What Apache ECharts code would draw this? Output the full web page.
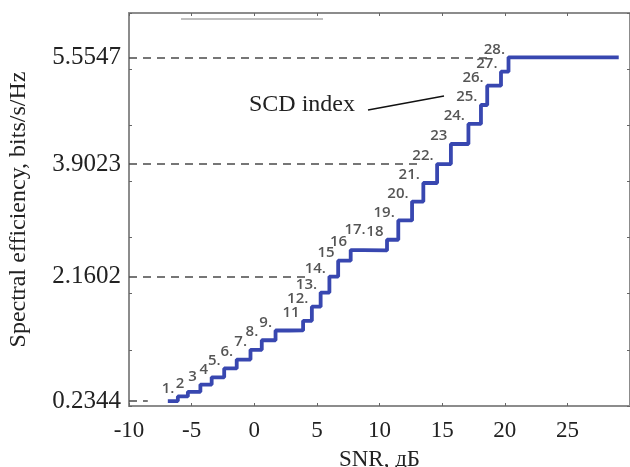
<!DOCTYPE html>
<html>
<head>
<meta charset="utf-8">
<script src="https://cdn.jsdelivr.net/npm/echarts@6/dist/echarts.min.js"></script>
<style>
  html, body { margin: 0; padding: 0; background: #fff; }
  #chart { width: 630px; height: 467px; }
</style>
</head>
<body>
<div id="chart"></div>
<script>
// MCS index of each step (0..28)
const mcsIndex = [0,1,2,3,4,5,6,7,8,9,10,11,12,13,14,15,16,17,18,19,20,21,22,23,24,25,26,27,28];
// spectral efficiency of each MCS, bits/s/Hz
const spectralEff = [0.2344, 0.3066, 0.3770, 0.4902, 0.6016, 0.7402, 0.8770, 1.0273, 1.1758,
  1.3262, 1.3281, 1.4766, 1.6953, 1.9141, 2.1602, 2.4063, 2.5703, 2.5664, 2.7305, 3.0293,
  3.3223, 3.6094, 3.9023, 4.2129, 4.5234, 4.8164, 5.1152, 5.3320, 5.5547];
// SNR (dB) at which each MCS becomes active
const snrSwitch = [-6.9, -6.1, -5.3, -4.3, -3.4, -2.4, -1.4, -0.3, 0.6, 1.7, 2.8, 3.9, 4.6, 5.3,
  6.0, 6.7, 7.7, 8.7, 10.6, 11.5, 12.6, 13.5, 14.6, 15.7, 17.1, 18.1, 18.6, 19.7, 20.3];
const snrEnd = 29.1;
// tags written next to each step
const stepTags = ['', '1.', '2', '3', '4', '5.', '6.', '7.', '8.', '9.', '', '11', '12.', '13.', '14.',
  '15', '16', '17.', '18', '19.', '20.', '21.', '22.', '23', '24.', '25.', '26.', '27.', '28.'];
// MCS levels marked with a dashed reference line
const refIndex = [0, 14, 22, 28];
const xTicks = [-10, -5, 0, 5, 10, 15, 20, 25];

const serif = 'Liberation Serif';
const axisGray = '#8c8c8c';

const curve = mcsIndex.map(i => [snrSwitch[i], spectralEff[i]]);
curve.push([snrEnd, spectralEff[spectralEff.length - 1]]);

// 16 and 17 share almost the same level, so the tag of 17 is lifted above its neighbour
const tagPoints = mcsIndex.filter(i => stepTags[i] !== '').map(i => {
  const item = { value: [snrSwitch[i], spectralEff[i], stepTags[i]] };
  if (i === 17) item.label = { offset: [6, -21] };
  return item;
});

const labelGap = 1.6; // dB left open before the tag of a marked level
const refLines = refIndex.map(i => [
  { name: spectralEff[i].toFixed(4), coord: [-10, spectralEff[i]] },
  { coord: [snrSwitch[i] - labelGap, spectralEff[i]] }
]);

const chart = echarts.init(document.getElementById('chart'), null, { renderer: 'canvas' });

const helperY = (pos, withName) => ({
  type: 'value', min: 0, max: 7, interval: 1, position: pos,
  axisLine: { show: true, onZero: false, lineStyle: { color: axisGray, width: 2 } },
  axisTick: { show: true, inside: true, length: 3, lineStyle: { color: '#666', width: 1 } },
  axisLabel: { show: false },
  splitLine: { show: false },
  name: withName ? 'Spectral efficiency, bits/s/Hz' : '',
  nameLocation: 'middle', nameRotate: 90, nameGap: 98,
  nameTextStyle: { fontFamily: serif, fontSize: 24, color: '#222' }
});

chart.setOption({
  animation: false,
  backgroundColor: '#fff',
  grid: { left: 129, right: 0, top: 13, bottom: 61, containLabel: false, outerBoundsMode: 'none' },
  xAxis: [
    {
      type: 'value', min: -10, max: 30, interval: 5, position: 'bottom',
      axisLine: { show: true, onZero: false, lineStyle: { color: axisGray, width: 2 } },
      axisTick: { show: true, inside: true, length: 3, lineStyle: { color: '#666', width: 1 } },
      axisLabel: {
        margin: 13, fontFamily: serif, fontSize: 23, color: '#222',
        formatter: v => xTicks.indexOf(v) >= 0 ? String(v) : ''
      },
      splitLine: { show: false },
      name: 'SNR, дБ', nameLocation: 'middle', nameGap: 42,
      nameTextStyle: { fontFamily: serif, fontSize: 23, color: '#222' }
    },
    {
      type: 'value', min: -10, max: 30, interval: 5, position: 'top',
      axisLine: { show: true, onZero: false, lineStyle: { color: axisGray, width: 2 } },
      axisTick: { show: true, inside: true, length: 3, lineStyle: { color: '#666', width: 1 } },
      axisLabel: { show: false }, splitLine: { show: false }
    }
  ],
  yAxis: [
    { type: 'value', min: 0.158, max: 6.24, show: false, splitLine: { show: false } },
    helperY('left', true),
    helperY('right', false)
  ],
  series: [
    {
      type: 'line', step: 'end', data: curve, xAxisIndex: 0, yAxisIndex: 0,
      showSymbol: false, symbol: 'none',
      lineStyle: { color: '#3847b0', width: 3.8 },
      z: 3,
      markLine: {
        silent: true, symbol: ['none', 'none'],
        lineStyle: { color: '#4a4a4a', width: 1.5, type: [8, 6] },
        label: {
          show: true, position: 'start', distance: 8, formatter: '{b}',
          fontFamily: serif, fontSize: 25, color: '#222'
        },
        data: refLines
      }
    },
    {
      type: 'scatter', data: tagPoints, xAxisIndex: 0, yAxisIndex: 0,
      symbolSize: 1, itemStyle: { color: 'rgba(0,0,0,0)' },
      label: {
        show: true, position: 'left', distance: 3, offset: [0, -8],
        formatter: p => p.value[2],
        fontFamily: 'Open Sans', fontWeight: 600, fontSize: 15, color: '#2b2b2b'
      },
      z: 4
    }
  ],
  graphic: [
    {
      type: 'text', left: 249, top: 93,
      style: { text: 'SCD index', font: '24px "Liberation Serif"', fill: '#222' }
    },
    {
      type: 'line', shape: { x1: 368, y1: 110, x2: 444, y2: 96 },
      style: { stroke: '#111', lineWidth: 1.3 }
    },
    {
      type: 'line', shape: { x1: 181, y1: 19, x2: 323, y2: 19 },
      style: { stroke: '#aaa', lineWidth: 1.5 }
    }
  ]
});
</script>
</body>
</html>
